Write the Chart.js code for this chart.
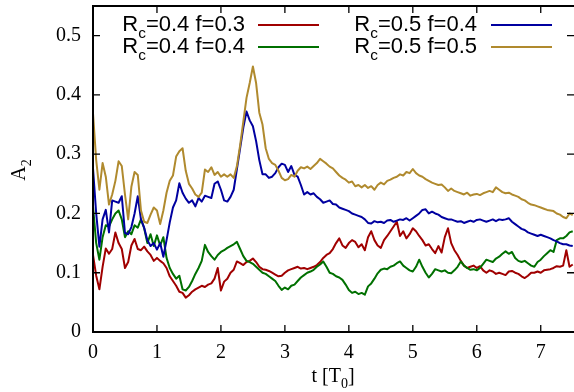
<!DOCTYPE html>
<html>
<head>
<meta charset="utf-8">
<script src="https://cdn.jsdelivr.net/npm/chart.js@4/dist/chart.umd.min.js"></script>
<style>
  html, body { margin: 0; padding: 0; background: #fff; }
  #wrap { width: 574px; height: 392px; }
</style>
</head>
<body>
<div id="wrap"><canvas id="c" width="574" height="392"></canvas></div>
<script>
// Sampling times in units of T0 (every 0.05 from 0 to 7.5)
const times = Array.from({ length: 151 }, (_, i) => Math.round(i * 5) / 100);

// A2 for Rc=0.4, f=0.3
const rc04f03 = [
  0.130, 0.095, 0.072, 0.110, 0.141, 0.132, 0.140, 0.168, 0.150, 0.140,
  0.108, 0.118, 0.146, 0.157, 0.140, 0.138, 0.144, 0.136, 0.130, 0.120,
  0.125, 0.120, 0.116, 0.108, 0.094, 0.086, 0.078, 0.068, 0.066, 0.058,
  0.062, 0.068, 0.072, 0.075, 0.078, 0.076, 0.080, 0.082, 0.090, 0.108,
  0.070, 0.085, 0.090, 0.100, 0.105, 0.119, 0.116, 0.113, 0.118, 0.120,
  0.124, 0.118, 0.110, 0.106, 0.105, 0.103, 0.100, 0.097, 0.094, 0.095,
  0.100, 0.104, 0.106, 0.108, 0.110, 0.107, 0.108, 0.106, 0.108, 0.110,
  0.113, 0.118, 0.125, 0.130, 0.133, 0.140, 0.150, 0.158, 0.146, 0.142,
  0.150, 0.155, 0.152, 0.143, 0.148, 0.138, 0.160, 0.170, 0.155, 0.146,
  0.142, 0.155, 0.162, 0.170, 0.178, 0.186, 0.162, 0.170, 0.158, 0.165,
  0.175, 0.170, 0.162, 0.155, 0.146, 0.148, 0.140, 0.133, 0.145, 0.134,
  0.160, 0.175, 0.150, 0.138, 0.130, 0.120, 0.112, 0.108, 0.110, 0.112,
  0.108, 0.111, 0.104, 0.100, 0.104, 0.102, 0.098, 0.100, 0.098, 0.096,
  0.102, 0.103, 0.100, 0.098, 0.094, 0.091, 0.095, 0.100, 0.100, 0.102,
  0.100, 0.104, 0.105, 0.106, 0.108, 0.111, 0.110, 0.112, 0.138, 0.110,
  0.114
];

// A2 for Rc=0.4, f=0.4
const rc04f04 = [
  0.212, 0.150, 0.122, 0.160, 0.180, 0.178, 0.190, 0.200, 0.205, 0.190,
  0.160, 0.170, 0.165, 0.180, 0.176, 0.190, 0.175, 0.150, 0.165, 0.145,
  0.163, 0.146, 0.160, 0.125, 0.108, 0.098, 0.090, 0.095, 0.072, 0.070,
  0.076, 0.086, 0.098, 0.108, 0.120, 0.147, 0.135, 0.128, 0.122, 0.130,
  0.135, 0.138, 0.142, 0.145, 0.148, 0.152, 0.140, 0.128, 0.120, 0.118,
  0.115, 0.110, 0.105, 0.100, 0.098, 0.094, 0.090, 0.086, 0.078, 0.071,
  0.075, 0.072, 0.078, 0.080, 0.086, 0.092, 0.096, 0.100, 0.102, 0.105,
  0.110, 0.114, 0.119, 0.110, 0.100, 0.098, 0.094, 0.092, 0.088, 0.080,
  0.071, 0.066, 0.068, 0.064, 0.066, 0.063, 0.077, 0.082, 0.090, 0.099,
  0.105, 0.107, 0.106, 0.110, 0.112, 0.116, 0.119, 0.112, 0.108, 0.104,
  0.102, 0.110, 0.122, 0.110, 0.100, 0.092, 0.098, 0.106, 0.104, 0.102,
  0.104, 0.100, 0.099, 0.104, 0.110, 0.119, 0.112, 0.108, 0.105, 0.106,
  0.104, 0.108, 0.115, 0.122, 0.120, 0.118, 0.124, 0.127, 0.132, 0.136,
  0.132, 0.135, 0.125, 0.120, 0.118, 0.120, 0.116, 0.112, 0.110, 0.118,
  0.122, 0.128, 0.133, 0.138, 0.135, 0.155, 0.158, 0.158, 0.162, 0.168,
  0.170
];

// A2 for Rc=0.5, f=0.4
const rc05f04 = [
  0.276, 0.200, 0.144, 0.190, 0.206, 0.168, 0.222, 0.220, 0.218, 0.229,
  0.167, 0.165, 0.177, 0.200, 0.229, 0.190, 0.176, 0.155, 0.145, 0.150,
  0.139, 0.150, 0.127, 0.155, 0.185, 0.210, 0.222, 0.251, 0.235, 0.225,
  0.218, 0.222, 0.212, 0.226, 0.220, 0.230, 0.228, 0.226, 0.250, 0.254,
  0.240, 0.222, 0.220, 0.228, 0.240, 0.275, 0.310, 0.345, 0.372, 0.357,
  0.347, 0.322, 0.290, 0.266, 0.266, 0.260, 0.262, 0.268, 0.278, 0.284,
  0.282, 0.270, 0.280, 0.265, 0.262, 0.248, 0.232, 0.236, 0.232, 0.234,
  0.228, 0.224, 0.218, 0.220, 0.222, 0.216, 0.215, 0.210, 0.208, 0.206,
  0.204, 0.200, 0.198, 0.196, 0.194, 0.190, 0.184, 0.183, 0.187, 0.185,
  0.186, 0.184, 0.188, 0.189, 0.186, 0.188, 0.190, 0.189, 0.192, 0.188,
  0.192, 0.196, 0.200, 0.206, 0.207, 0.200, 0.203, 0.200, 0.198, 0.194,
  0.192, 0.190, 0.190, 0.188, 0.186, 0.187, 0.184, 0.186, 0.188, 0.186,
  0.189, 0.190, 0.188, 0.186, 0.188, 0.190, 0.187, 0.190, 0.189, 0.190,
  0.192, 0.186, 0.182, 0.178, 0.174, 0.172, 0.168, 0.166, 0.164, 0.162,
  0.164, 0.162, 0.160, 0.158, 0.155, 0.153, 0.150, 0.148, 0.148, 0.146,
  0.145
];

// A2 for Rc=0.5, f=0.5
const rc05f05 = [
  0.369, 0.290, 0.240, 0.285, 0.262, 0.215, 0.232, 0.255, 0.288, 0.280,
  0.232, 0.190, 0.245, 0.270, 0.265, 0.205, 0.186, 0.184, 0.198, 0.210,
  0.205, 0.182, 0.205, 0.235, 0.255, 0.264, 0.296, 0.305, 0.310, 0.272,
  0.250, 0.242, 0.232, 0.228, 0.235, 0.274, 0.270, 0.278, 0.265, 0.270,
  0.262, 0.266, 0.262, 0.266, 0.260, 0.280, 0.315, 0.355, 0.395, 0.420,
  0.448, 0.420, 0.370, 0.350, 0.310, 0.292, 0.285, 0.282, 0.272, 0.260,
  0.256, 0.258, 0.265, 0.262, 0.272, 0.278, 0.276, 0.279, 0.275, 0.280,
  0.285, 0.292, 0.288, 0.284, 0.279, 0.276, 0.270, 0.264, 0.260, 0.257,
  0.252, 0.254, 0.246, 0.248, 0.244, 0.248, 0.243, 0.246, 0.240, 0.248,
  0.252, 0.249, 0.255, 0.257, 0.260, 0.262, 0.266, 0.264, 0.270, 0.268,
  0.275, 0.268, 0.264, 0.262, 0.258, 0.255, 0.252, 0.250, 0.248, 0.249,
  0.244, 0.238, 0.242, 0.238, 0.236, 0.234, 0.232, 0.235, 0.230, 0.232,
  0.233, 0.231, 0.234, 0.236, 0.238, 0.236, 0.244, 0.240, 0.236, 0.234,
  0.235, 0.232, 0.230, 0.228, 0.224, 0.222, 0.218, 0.215, 0.214, 0.212,
  0.210, 0.208, 0.206, 0.205, 0.204, 0.200, 0.198, 0.194, 0.192, 0.200,
  0.197
];

const xTicks = [0, 1, 2, 3, 4, 5, 6, 7];
const xTickLabels = ['0', '1', '2', '3', '4', '5', '6', '7'];
const yTicks = [0, 0.1, 0.2, 0.3, 0.4, 0.5];
const yTickLabels = ['0', '0.1', '0.2', '0.3', '0.4', '0.5'];

const seriesNames = ['0.4 f=0.3', '0.4 f=0.4', '0.5 f=0.4', '0.5 f=0.5'];
const seriesColors = ['#a00000', '#007000', '#0000a0', '#b08a2e'];
const seriesValues = [rc04f03, rc04f04, rc05f04, rc05f05];

const SERIF = '"Liberation Serif", "Times New Roman", serif';
const SANS = '"Liberation Sans", Arial, sans-serif';

// Draws text with a lowered, smaller second part (e.g. R_c, A_2, T_0)
function subText(ctx, parts, x, y, size, font, align) {
  // parts: array of [text, isSub]
  const widths = parts.map(([t, s]) => {
    ctx.font = (s ? size * 0.7 : size) + 'px ' + font;
    return ctx.measureText(t).width;
  });
  const total = widths.reduce((a, b) => a + b, 0);
  let cx = align === 'right' ? x - total : align === 'center' ? x - total / 2 : x;
  ctx.textAlign = 'left';
  ctx.textBaseline = 'alphabetic';
  parts.forEach(([t, s], i) => {
    ctx.font = (s ? size * 0.7 : size) + 'px ' + font;
    ctx.fillText(t, cx, y + (s ? size * 0.3 : 0));
    cx += widths[i];
  });
}

const framePlugin = {
  id: 'frame',
  afterDatasetsDraw(chart) {
    const { ctx, chartArea: a, scales } = chart;
    const xs = scales.x, ys = scales.y;
    ctx.save();
    ctx.strokeStyle = '#000';
    ctx.lineWidth = 1.3;
    const L = 7;
    ctx.beginPath();
    xTicks.forEach(v => {
      const px = xs.getPixelForValue(v);
      ctx.moveTo(px, a.bottom); ctx.lineTo(px, a.bottom - L);
      ctx.moveTo(px, a.top); ctx.lineTo(px, a.top + L);
    });
    yTicks.forEach(v => {
      const py = ys.getPixelForValue(v);
      ctx.moveTo(a.left, py); ctx.lineTo(a.left + L, py);
      ctx.moveTo(a.right, py); ctx.lineTo(a.right - L, py);
    });
    ctx.stroke();
    ctx.lineWidth = 2;
    ctx.beginPath();
    ctx.moveTo(a.right + 2, a.top);
    ctx.lineTo(a.left, a.top);
    ctx.lineTo(a.left, a.bottom);
    ctx.lineTo(a.right + 2, a.bottom);
    ctx.stroke();

    // axis titles
    ctx.fillStyle = '#000';
    subText(ctx, [['t [T', false], ['0', true], [']', false]], 333, 382, 20, SERIF, 'center');
    ctx.save();
    ctx.translate(25, 170);
    ctx.rotate(-Math.PI / 2);
    subText(ctx, [['A', false], ['2', true]], 0, 0, 20, SERIF, 'center');
    ctx.restore();

    // key, two columns
    const cols = [{ textRight: 245, x0: 258, x1: 319 }, { textRight: 477, x0: 491, x1: 552 }];
    const rows = [25, 47];
    seriesNames.forEach((name, i) => {
      const c = cols[Math.floor(i / 2)], r = rows[i % 2];
      ctx.fillStyle = '#000';
      subText(ctx, [['R', false], ['c', true], ['=' + name, false]], c.textRight, r + 6, 22, SANS, 'right');
      ctx.strokeStyle = seriesColors[i];
      ctx.lineWidth = 2.2;
      ctx.beginPath();
      ctx.moveTo(c.x0, r); ctx.lineTo(c.x1, r);
      ctx.stroke();
    });
    ctx.restore();
  }
};

new Chart(document.getElementById('c'), {
  type: 'line',
  data: {
    datasets: seriesValues.map((vals, i) => ({
      label: 'Rc=' + seriesNames[i],
      data: vals.map((v, k) => ({ x: times[k], y: v })),
      borderColor: seriesColors[i],
      borderWidth: 2,
      pointRadius: 0,
      tension: 0,
      fill: false,
      borderJoinStyle: 'round',
      order: 3 - i
    }))
  },
  options: {
    responsive: false,
    animation: false,
    devicePixelRatio: 1,
    layout: { padding: { top: 6, right: 0, bottom: 0, left: 0 } },
    plugins: { legend: { display: false }, tooltip: { enabled: false } },
    scales: {
      x: {
        type: 'linear',
        min: 0,
        max: 7.52,
        grid: { display: false, drawTicks: false },
        border: { display: false },
        afterBuildTicks: s => { s.ticks = xTicks.map(v => ({ value: v })); },
        afterFit: s => { s.height = 60; s.paddingLeft = 0; s.paddingRight = 0; },
        ticks: {
          autoSkip: false,
          maxRotation: 0,
          padding: 9,
          color: '#000',
          font: { family: SERIF, size: 20 },
          callback: (v) => xTickLabels[xTicks.indexOf(v)]
        }
      },
      y: {
        min: 0,
        max: 0.55,
        grid: { display: false, drawTicks: false },
        border: { display: false },
        afterBuildTicks: s => { s.ticks = yTicks.map(v => ({ value: v })); },
        afterFit: s => { s.width = 93; s.paddingTop = 0; s.paddingBottom = 0; },
        ticks: {
          autoSkip: false,
          padding: 12,
          color: '#000',
          font: { family: SERIF, size: 20 },
          callback: (v) => yTickLabels[yTicks.findIndex(t => Math.abs(t - v) < 1e-9)]
        }
      }
    }
  },
  plugins: [framePlugin]
});
</script>
</body>
</html>
